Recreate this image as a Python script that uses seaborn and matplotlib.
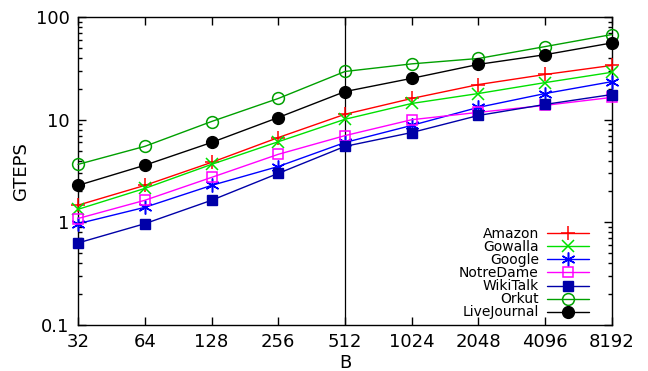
import matplotlib
matplotlib.use("Agg")
import matplotlib.pyplot as plt
import seaborn as sns
import pandas as pd
from matplotlib.ticker import FixedLocator, FixedFormatter, LogLocator, NullFormatter

B = [32, 64, 128, 256, 512, 1024, 2048, 4096, 8192]
amazon = [1.47, 2.29, 3.84, 6.7, 11.3, 16.1, 22.0, 27.6, 33.8]
gowalla = [1.34, 2.14, 3.67, 6.1, 10.1, 14.4, 18.0, 23.0, 29.0]
google = [0.97, 1.4, 2.29, 3.5, 6.0, 8.8, 13.2, 18.0, 23.5]
notredame = [1.09, 1.64, 2.74, 4.6, 7.0, 10.0, 11.8, 13.8, 16.5]
wikitalk = [0.63, 0.97, 1.64, 3.0, 5.5, 7.5, 11.0, 14.1, 17.6]
orkut = [3.67, 5.5, 9.6, 16.1, 29.5, 35.0, 39.5, 51.6, 67.6]
livejournal = [2.29, 3.6, 6.0, 10.5, 18.8, 25.3, 34.6, 43.0, 56.0]
names = ["Amazon", "Gowalla", "Google", "NotreDame", "WikiTalk", "Orkut", "LiveJournal"]
series = [amazon, gowalla, google, notredame, wikitalk, orkut, livejournal]
y_ticks = [0.1, 1, 10, 100]
y_labels = ["0.1", "1", "10", "100"]

sns.set_style("ticks")
plt.rcParams['font.family'] = ['DejaVu Sans']
plt.rcParams.update({"text.color": "black", "axes.labelcolor": "black",
                     "xtick.color": "black", "ytick.color": "black",
                     "axes.edgecolor": "black"})

styles = {
    "Amazon": dict(color="#ff0000", marker="+", ms=10, mfc="none", mew=1.1),
    "Gowalla": dict(color="#00e000", marker="x", ms=8, mfc="none", mew=1.1),
    "Google": dict(color="#0000ff", marker=(6, 2, 0), ms=10, mfc="none", mew=1.1),
    "NotreDame": dict(color="#ff00ff", marker="s", ms=7.5, mfc="none", mew=1.1),
    "WikiTalk": dict(color="#0000a8", marker="s", ms=7.5, mfc="#0000a8", mew=1.0),
    "Orkut": dict(color="#00a000", marker="o", ms=8.5, mfc="none", mew=1.1),
    "LiveJournal": dict(color="#000000", marker="o", ms=8.5, mfc="#000000", mew=1.0),
}

fig = plt.figure(figsize=(6.48, 3.71), dpi=100)
ax = fig.add_axes([0.1204, 0.124, 0.8240, 0.830])

for name, vals in zip(names, series):
    df = pd.DataFrame({"B": B, "GTEPS": vals})
    st = styles[name]
    sns.lineplot(data=df, x="B", y="GTEPS", ax=ax, color=st["color"], marker=st["marker"],
                 markersize=st["ms"], markerfacecolor=st["mfc"], markeredgecolor=st["color"],
                 markeredgewidth=st["mew"], linewidth=1.0, label=name, clip_on=False, zorder=3)

ax.axvline(512, color="black", linewidth=0.9, zorder=1)

ax.set_xscale("log", base=2)
ax.set_yscale("log")
ax.set_xlim(32, 8192)
ax.set_ylim(0.1, 100)
ax.xaxis.set_major_locator(FixedLocator(B))
ax.xaxis.set_major_formatter(FixedFormatter([str(b) for b in B]))
ax.xaxis.set_minor_locator(FixedLocator([]))
ax.yaxis.set_major_locator(FixedLocator(y_ticks))
ax.yaxis.set_major_formatter(FixedFormatter(y_labels))
ax.yaxis.set_minor_locator(LogLocator(base=10, subs=range(2, 10)))
ax.yaxis.set_minor_formatter(NullFormatter())

ax.tick_params(which="both", direction="in", top=True, right=True, labelsize=13, pad=6, width=1)
ax.tick_params(which="major", length=6)
ax.tick_params(which="minor", length=3)
for s in ax.spines.values():
    s.set_linewidth(1.0)
    s.set_color("black")

ax.set_xlabel("B", fontsize=13, labelpad=2)
ax.set_ylabel("GTEPS", fontsize=13, labelpad=4)

ax.legend(loc="lower right", frameon=False, markerfirst=False, fontsize=10,
          handlelength=3.0, labelspacing=-0.07, handletextpad=0.6,
          borderaxespad=0.0, bbox_to_anchor=(0.967, 0.0))

fig.savefig("out.png", dpi=100)
